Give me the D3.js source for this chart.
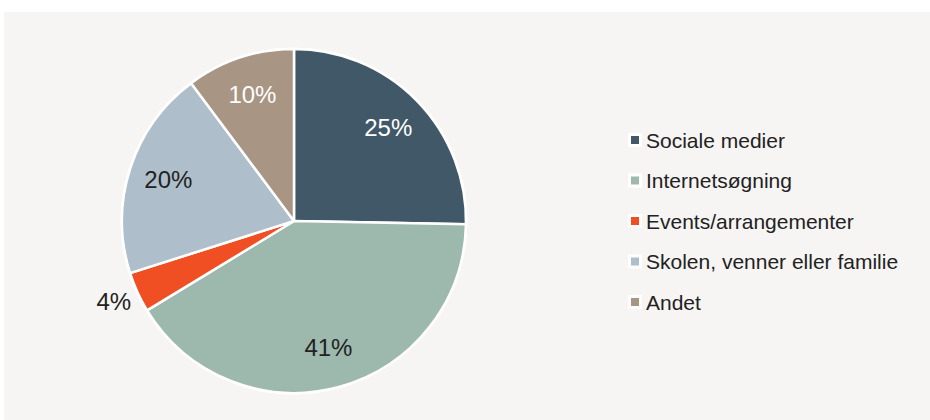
<!DOCTYPE html>
<html>
<head>
<meta charset="utf-8">
<script src="https://cdn.jsdelivr.net/npm/d3@7"></script>
<style>
  html, body { margin: 0; padding: 0; background: #ffffff; }
  svg { display: block; }
  text { font-family: "Liberation Sans", Arial, Helvetica, sans-serif; }
</style>
</head>
<body>
<svg id="chart" width="930" height="420"></svg>
<script>
const categories = ["Sociale medier", "Internetsøgning", "Events/arrangementer", "Skolen, venner eller familie", "Andet"];
const values = [25.3, 41.0, 3.8, 19.7, 10.2];
const colors = ["#415868", "#9db9ae", "#f04e23", "#aebfcb", "#a89583"];
const labelColors = ["#ffffff", "#222222", "#222222", "#222222", "#ffffff"];
const outsideLabel = [false, false, true, false, false];

const svg = d3.select("#chart");
svg.append("rect").attr("x", 4).attr("y", 12).attr("width", 926).attr("height", 408).attr("fill", "#f6f5f3");

const cx = 294, cy = 221, r = 172;
const g = svg.append("g").attr("transform", `translate(${cx},${cy})`);

const data = categories.map((c, i) => ({ name: c, value: values[i], color: colors[i], lc: labelColors[i], outside: outsideLabel[i] }));
const pie = d3.pie().value(d => d.value).sort(null);
const arcs = pie(data);
const arc = d3.arc().innerRadius(0).outerRadius(r);

g.append("circle").attr("r", r + 1.5).attr("fill", "#ffffff");

g.selectAll("path").data(arcs).enter().append("path")
  .attr("d", arc)
  .attr("fill", d => d.data.color)
  .attr("stroke", "#ffffff")
  .attr("stroke-width", 2.5)
  .attr("stroke-linejoin", "round");

const fmt = d3.format(".0f");
const inArc = d3.arc().innerRadius(132).outerRadius(132);
const outArc = d3.arc().innerRadius(198).outerRadius(198);
g.selectAll("text.lbl").data(arcs).enter().append("text")
  .attr("class", "lbl")
  .attr("transform", d => `translate(${(d.data.outside ? outArc : inArc).centroid(d)})`)
  .attr("text-anchor", "middle")
  .attr("dy", "0.3em")
  .attr("font-size", 24)
  .attr("fill", d => d.data.outside ? "#222222" : d.data.lc)
  .text(d => fmt(d.data.value) + "%");

const legend = svg.append("g").attr("transform", "translate(628,140)");
const item = legend.selectAll("g").data(data).enter().append("g")
  .attr("transform", (d, i) => `translate(0,${i * 40.5})`);
item.append("rect").attr("x", 0).attr("y", -7).attr("width", 14).attr("height", 14).attr("fill", "#ffffff");
item.append("rect").attr("x", 3).attr("y", -4).attr("width", 8).attr("height", 8).attr("fill", d => d.color);
item.append("text").attr("x", 18).attr("dy", "0.36em").attr("font-size", 21).attr("fill", "#222222").text(d => d.name);
</script>
</body>
</html>
